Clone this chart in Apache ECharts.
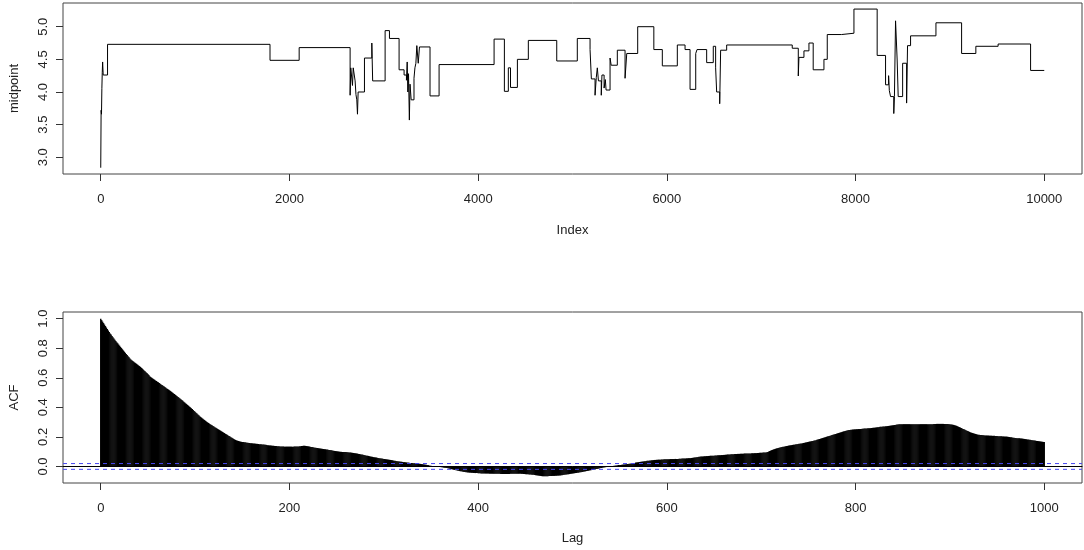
<!DOCTYPE html>
<html>
<head>
<meta charset="utf-8">
<script src="https://cdn.jsdelivr.net/npm/echarts@6/dist/echarts.min.js"></script>
<style>
html,body{margin:0;padding:0;background:#fff;}
#chart{width:1084px;height:550px;}
</style>
</head>
<body>
<div id="chart"></div>
<script>
// ---- Top panel: midpoint step series (index where a level starts, level value) ----
var stepIndex = [0,4,8,12,16,20,26,72,1794,2103,2643,2650,2668,2676,2696,2705,2714,2721,2728,2795,2873,2882,3014,3060,3162,3215,3240,3248,3255,3262,3271,3278,3290,3320,3330,3340,3350,3365,3378,3490,3586,4169,4278,4320,4343,4416,4532,4833,5051,5186,5200,5239,5252,5263,5275,5305,5312,5335,5348,5356,5398,5410,5475,5557,5575,5691,5862,5952,6111,6193,6246,6306,6320,6422,6492,6517,6528,6560,6570,6634,7329,7393,7400,7453,7506,7551,7665,7700,7852,7983,8229,8318,8350,8358,8371,8405,8412,8424,8441,8452,8499,8541,8551,8583,8852,9124,9275,9511,9855,10000];
var stepValue = [2.84,3.72,3.66,4.05,4.30,4.46,4.26,4.73,4.485,4.68,3.95,4.37,4.10,4.37,4.17,3.96,3.88,3.66,4.00,4.52,4.75,4.17,4.94,4.82,4.34,4.26,4.18,4.46,4.00,4.28,3.57,4.12,3.88,4.21,4.37,4.44,4.71,4.44,4.69,3.94,4.42,4.81,4.01,4.37,4.07,4.50,4.79,4.475,4.82,4.65,4.20,3.95,4.22,4.37,4.17,3.95,4.26,4.06,4.19,4.03,4.52,4.41,4.64,4.21,4.59,5.00,4.65,4.40,4.72,4.65,4.04,4.59,4.65,4.45,4.70,4.37,4.00,3.82,4.64,4.72,4.67,4.245,4.53,4.63,4.75,4.34,4.50,4.88,4.90,5.27,4.56,4.11,4.25,4.02,3.93,3.67,3.93,5.09,4.49,3.93,4.44,3.83,4.71,4.86,5.06,4.59,4.70,4.735,4.33,4.33];
var topXTicks = [0,2000,4000,6000,8000,10000];
var topYTicks = [3.0,3.5,4.0,4.5,5.0];

// ---- Bottom panel: ACF at lags 0..1000 ----
var acfValues = [
1.000,0.990,0.980,0.970,0.960,0.950,0.940,0.930,0.920,0.910,
0.900,0.892,0.883,0.875,0.866,0.858,0.849,0.841,0.833,0.825,
0.817,0.809,0.801,0.793,0.785,0.777,0.769,0.761,0.754,0.746,
0.738,0.730,0.724,0.719,0.714,0.709,0.704,0.699,0.694,0.689,
0.684,0.679,0.674,0.668,0.662,0.656,0.650,0.644,0.638,0.632,
0.626,0.618,0.610,0.605,0.600,0.596,0.591,0.587,0.582,0.578,
0.573,0.569,0.564,0.560,0.555,0.551,0.546,0.542,0.537,0.533,
0.528,0.524,0.519,0.515,0.510,0.505,0.500,0.495,0.490,0.485,
0.480,0.475,0.470,0.465,0.460,0.455,0.449,0.444,0.438,0.433,
0.427,0.422,0.416,0.411,0.405,0.400,0.394,0.388,0.382,0.376,
0.370,0.364,0.358,0.352,0.346,0.340,0.334,0.329,0.324,0.319,
0.314,0.309,0.304,0.299,0.295,0.290,0.286,0.282,0.278,0.274,
0.270,0.266,0.262,0.258,0.254,0.250,0.246,0.242,0.238,0.234,
0.230,0.226,0.222,0.218,0.214,0.210,0.206,0.202,0.198,0.194,
0.190,0.186,0.182,0.179,0.176,0.174,0.172,0.170,0.168,0.167,
0.166,0.165,0.164,0.163,0.162,0.161,0.160,0.159,0.158,0.157,
0.157,0.156,0.155,0.155,0.154,0.153,0.153,0.152,0.151,0.151,
0.150,0.149,0.148,0.148,0.147,0.146,0.145,0.144,0.143,0.142,
0.142,0.141,0.140,0.140,0.139,0.138,0.138,0.137,0.136,0.136,
0.135,0.135,0.135,0.135,0.135,0.134,0.134,0.134,0.134,0.134,
0.134,0.134,0.134,0.134,0.134,0.135,0.135,0.135,0.135,0.135,
0.135,0.136,0.137,0.138,0.139,0.140,0.140,0.139,0.138,0.137,
0.136,0.135,0.133,0.132,0.131,0.130,0.128,0.127,0.126,0.125,
0.124,0.123,0.122,0.121,0.120,0.119,0.118,0.117,0.116,0.115,
0.114,0.113,0.112,0.111,0.110,0.109,0.107,0.106,0.105,0.104,
0.103,0.102,0.101,0.100,0.099,0.099,0.098,0.098,0.098,0.097,
0.097,0.096,0.096,0.095,0.094,0.094,0.093,0.092,0.091,0.090,
0.089,0.088,0.087,0.085,0.084,0.083,0.081,0.080,0.079,0.077,
0.076,0.074,0.073,0.072,0.070,0.069,0.067,0.066,0.065,0.063,
0.062,0.061,0.060,0.059,0.057,0.056,0.055,0.054,0.053,0.052,
0.051,0.050,0.049,0.048,0.047,0.046,0.045,0.044,0.043,0.042,
0.040,0.039,0.038,0.037,0.036,0.035,0.034,0.033,0.032,0.031,
0.030,0.029,0.029,0.028,0.027,0.026,0.026,0.025,0.024,0.024,
0.023,0.022,0.022,0.021,0.021,0.020,0.020,0.019,0.018,0.017,
0.016,0.015,0.014,0.013,0.012,0.011,0.010,0.009,0.007,0.005,
0.004,0.003,0.002,0.001,0.001,0.000,0.000,-0.001,-0.002,-0.003,
-0.004,-0.005,-0.006,-0.007,-0.008,-0.009,-0.010,-0.011,-0.013,-0.014,
-0.016,-0.017,-0.019,-0.020,-0.022,-0.023,-0.025,-0.026,-0.028,-0.029,
-0.030,-0.032,-0.033,-0.035,-0.036,-0.037,-0.038,-0.039,-0.040,-0.041,
-0.041,-0.042,-0.042,-0.043,-0.043,-0.044,-0.044,-0.045,-0.045,-0.045,
-0.046,-0.046,-0.046,-0.047,-0.047,-0.047,-0.047,-0.048,-0.048,-0.048,
-0.048,-0.048,-0.049,-0.049,-0.049,-0.049,-0.049,-0.050,-0.050,-0.050,
-0.050,-0.050,-0.050,-0.050,-0.051,-0.051,-0.051,-0.051,-0.051,-0.051,
-0.051,-0.051,-0.051,-0.051,-0.050,-0.050,-0.050,-0.050,-0.050,-0.050,
-0.049,-0.049,-0.049,-0.049,-0.049,-0.049,-0.050,-0.050,-0.051,-0.051,
-0.052,-0.052,-0.053,-0.053,-0.054,-0.054,-0.055,-0.056,-0.056,-0.057,
-0.058,-0.059,-0.060,-0.061,-0.062,-0.063,-0.064,-0.065,-0.066,-0.067,
-0.067,-0.067,-0.066,-0.066,-0.066,-0.065,-0.065,-0.065,-0.064,-0.064,
-0.064,-0.064,-0.063,-0.063,-0.062,-0.062,-0.061,-0.061,-0.060,-0.059,
-0.058,-0.057,-0.056,-0.055,-0.054,-0.053,-0.052,-0.051,-0.050,-0.049,
-0.048,-0.047,-0.046,-0.045,-0.044,-0.043,-0.042,-0.041,-0.040,-0.039,
-0.038,-0.037,-0.035,-0.034,-0.033,-0.031,-0.030,-0.029,-0.027,-0.026,
-0.025,-0.023,-0.022,-0.021,-0.020,-0.018,-0.017,-0.015,-0.014,-0.012,
-0.011,-0.010,-0.008,-0.007,-0.006,-0.005,-0.004,-0.003,-0.002,-0.001,
0.000,0.001,0.002,0.003,0.004,0.005,0.006,0.007,0.008,0.009,
0.009,0.010,0.011,0.012,0.013,0.013,0.014,0.015,0.016,0.017,
0.018,0.019,0.020,0.021,0.022,0.023,0.024,0.026,0.027,0.028,
0.029,0.030,0.031,0.032,0.033,0.034,0.035,0.036,0.037,0.038,
0.039,0.039,0.040,0.041,0.042,0.042,0.043,0.044,0.044,0.045,
0.045,0.046,0.046,0.046,0.047,0.047,0.047,0.048,0.048,0.048,
0.049,0.049,0.049,0.049,0.050,0.050,0.050,0.050,0.050,0.051,
0.051,0.051,0.051,0.052,0.052,0.052,0.053,0.053,0.054,0.054,
0.054,0.055,0.055,0.056,0.056,0.056,0.057,0.058,0.059,0.060,
0.061,0.062,0.063,0.064,0.065,0.066,0.067,0.067,0.068,0.068,
0.069,0.069,0.070,0.070,0.071,0.071,0.072,0.072,0.073,0.073,
0.073,0.074,0.074,0.074,0.075,0.075,0.076,0.076,0.077,0.077,
0.078,0.078,0.079,0.079,0.080,0.080,0.081,0.081,0.082,0.082,
0.083,0.083,0.084,0.084,0.084,0.085,0.085,0.085,0.086,0.086,
0.086,0.086,0.087,0.087,0.087,0.087,0.088,0.088,0.088,0.088,
0.089,0.089,0.089,0.090,0.090,0.090,0.091,0.091,0.092,0.092,
0.093,0.093,0.094,0.094,0.095,0.095,0.096,0.098,0.101,0.104,
0.107,0.110,0.112,0.115,0.117,0.119,0.121,0.123,0.125,0.127,
0.128,0.130,0.131,0.133,0.134,0.135,0.137,0.138,0.139,0.141,
0.142,0.143,0.144,0.145,0.146,0.147,0.148,0.150,0.151,0.152,
0.153,0.154,0.155,0.156,0.157,0.159,0.160,0.162,0.163,0.165,
0.166,0.168,0.169,0.171,0.172,0.173,0.175,0.176,0.178,0.180,
0.182,0.184,0.186,0.188,0.190,0.192,0.194,0.196,0.198,0.200,
0.202,0.204,0.206,0.208,0.210,0.212,0.214,0.216,0.218,0.220,
0.222,0.224,0.226,0.228,0.230,0.232,0.234,0.236,0.238,0.240,
0.242,0.244,0.245,0.246,0.247,0.248,0.249,0.250,0.250,0.251,
0.251,0.252,0.252,0.253,0.253,0.254,0.254,0.255,0.255,0.256,
0.256,0.257,0.257,0.258,0.258,0.259,0.259,0.260,0.261,0.262,
0.262,0.263,0.264,0.265,0.266,0.267,0.268,0.268,0.269,0.270,
0.271,0.271,0.272,0.272,0.273,0.274,0.275,0.276,0.277,0.278,
0.279,0.280,0.281,0.282,0.283,0.284,0.285,0.286,0.286,0.286,
0.286,0.286,0.286,0.286,0.286,0.286,0.286,0.286,0.286,0.286,
0.286,0.286,0.286,0.286,0.286,0.286,0.286,0.286,0.286,0.286,
0.286,0.286,0.286,0.286,0.286,0.286,0.286,0.286,0.286,0.286,
0.286,0.286,0.286,0.287,0.287,0.287,0.288,0.288,0.288,0.288,
0.288,0.288,0.288,0.288,0.288,0.288,0.288,0.287,0.287,0.286,
0.285,0.284,0.283,0.282,0.281,0.279,0.277,0.275,0.272,0.269,
0.266,0.263,0.260,0.257,0.254,0.251,0.248,0.245,0.242,0.239,
0.236,0.233,0.230,0.228,0.226,0.224,0.222,0.220,0.218,0.216,
0.215,0.214,0.213,0.212,0.212,0.211,0.211,0.210,0.210,0.209,
0.209,0.209,0.208,0.208,0.208,0.207,0.207,0.207,0.206,0.206,
0.206,0.205,0.205,0.205,0.204,0.204,0.203,0.203,0.202,0.202,
0.202,0.201,0.200,0.199,0.198,0.197,0.196,0.195,0.194,0.193,
0.192,0.191,0.191,0.190,0.190,0.189,0.189,0.188,0.187,0.186,
0.185,0.184,0.183,0.182,0.181,0.180,0.179,0.178,0.177,0.176,
0.175,0.174,0.173,0.172,0.171,0.170,0.169,0.168,0.167,0.166,
0.165];
var confLimit = 0.0196;
var botXTicks = [0,200,400,600,800,1000];
var botYTicks = [0.0,0.2,0.4,0.6,0.8,1.0];

// axis extents (R pads the data range by 4%)
var topXRange = [-400, 10400], topYRange = [2.744, 5.363];
var botXRange = [-40, 1040],   botYRange = [-0.112, 1.045];

// ---- build ----
var stepData = stepIndex.map(function(x,i){ return [x, stepValue[i]]; });
var acfData = acfValues.map(function(v,i){ return [i, v]; });
var confUpper = botXRange.map(function(x){ return [x, confLimit]; });
var confLower = botXRange.map(function(x){ return [x, -confLimit]; });

var FONT = '"Liberation Sans", Arial, sans-serif';
var TXT = '#222';
var BLUE = '#4848f0';

function xAxisCfg(gridIndex, range, ticks, name, gap){
  return {
    type:'value', gridIndex:gridIndex, min:range[0], max:range[1], position:'bottom',
    name:name, nameLocation:'middle', nameGap:gap,
    nameTextStyle:{fontFamily:FONT, fontSize:13, color:TXT},
    axisLine:{show:false, onZero:false},
    splitLine:{show:false},
    axisTick:{show:true, customValues:ticks, length:7, inside:false, lineStyle:{color:'#333', width:1}},
    axisLabel:{show:true, customValues:ticks, margin:19, fontFamily:FONT, fontSize:13, color:TXT,
      formatter:function(v){return String(v);}}
  };
}
function yAxisCfg(gridIndex, range, ticks, name, gap){
  return {
    type:'value', gridIndex:gridIndex, min:range[0], max:range[1], position:'left',
    name:name, nameLocation:'middle', nameGap:gap, nameRotate:90,
    nameTextStyle:{fontFamily:FONT, fontSize:13, color:TXT},
    axisLine:{show:false, onZero:false},
    splitLine:{show:false},
    axisTick:{show:true, customValues:ticks, length:7, inside:false, lineStyle:{color:'#333', width:1}},
    axisLabel:{show:true, customValues:ticks, rotate:90, margin:13, fontFamily:FONT, fontSize:13, color:TXT,
      formatter:function(v){return Number(v).toFixed(1);}}
  };
}

var chart = echarts.init(document.getElementById('chart'), null, {renderer:'canvas'});
chart.setOption({
  animation:false,
  backgroundColor:'#fff',
  grid:[
    {left:62, top:3, width:1020, height:171, show:true, borderColor:'#444', borderWidth:1, backgroundColor:'transparent'},
    {left:62, top:312, width:1020, height:171, show:true, borderColor:'#444', borderWidth:1, backgroundColor:'transparent'}
  ],
  xAxis:[
    xAxisCfg(0, topXRange, topXTicks, 'Index', 50),
    xAxisCfg(1, botXRange, botXTicks, 'Lag', 49),
    // helper axis: horizontal reference line at ACF = 0 across the plot
    {type:'value', gridIndex:1, min:botXRange[0], max:botXRange[1],
     axisLine:{show:true, onZero:true, lineStyle:{color:'#000', width:1}},
     axisTick:{show:false}, axisLabel:{show:false}, splitLine:{show:false}}
  ],
  yAxis:[
    yAxisCfg(0, topYRange, topYTicks, 'midpoint', 42),
    yAxisCfg(1, botYRange, botYTicks, 'ACF', 42)
  ],
  series:[
    {
      type:'line', xAxisIndex:0, yAxisIndex:0, data:stepData, step:'end',
      showSymbol:false, symbol:'none', lineStyle:{color:'#000', width:1}, silent:true
    },
    {
      type:'bar', xAxisIndex:1, yAxisIndex:1, data:acfData, barWidth:1.4,
      itemStyle:{color:'#000'}, silent:true
    },
    {
      type:'line', xAxisIndex:1, yAxisIndex:1, data:confUpper, showSymbol:false, symbol:'none',
      color:BLUE, lineStyle:{color:BLUE, type:[4,4], width:1}, silent:true, z:5
    },
    {
      type:'line', xAxisIndex:1, yAxisIndex:1, data:confLower, showSymbol:false, symbol:'none',
      color:BLUE, lineStyle:{color:BLUE, type:[4,4], width:1}, silent:true, z:5
    }
  ]
});
</script>
</body>
</html>
